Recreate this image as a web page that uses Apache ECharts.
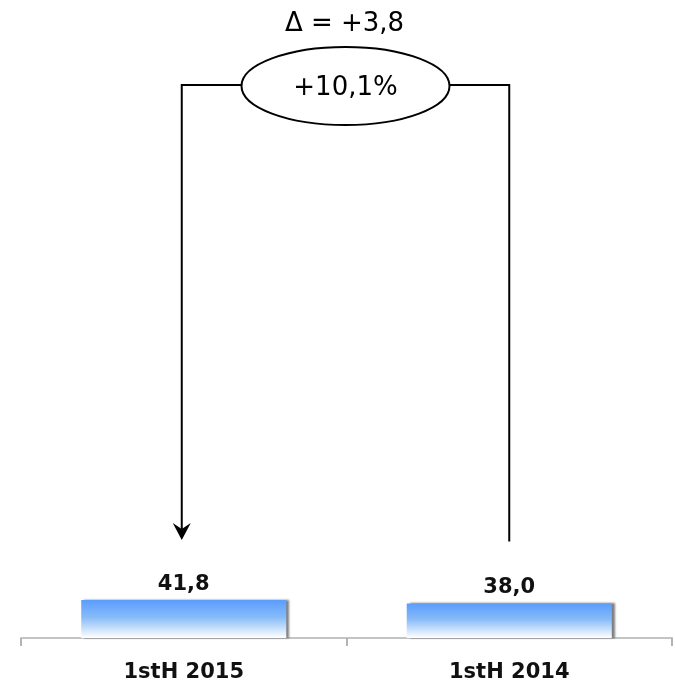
<!DOCTYPE html>
<html>
<head>
<meta charset="utf-8">
<script src="https://cdn.jsdelivr.net/npm/echarts@6/dist/echarts.min.js"></script>
<style>
  html, body { margin: 0; padding: 0; background: #fff; }
  #chart { width: 675px; height: 692px; }
</style>
</head>
<body>
<div id="chart"></div>
<script>
// Half-year comparison
const categories = ['1stH 2015', '1stH 2014'];
const values = [41.8, 38.0];
const deltaLabel = '\u0394 = +3,8';
const changeLabel = '+10,1%';

const FONT = '"DejaVu Sans", Verdana, sans-serif';
const fmt = v => v.toFixed(1).replace('.', ',');

const chart = echarts.init(document.getElementById('chart'));

chart.setOption({
  animation: false,
  grid: { left: 21, right: 3, top: 38, bottom: 54 },
  xAxis: {
    type: 'category',
    data: categories,
    axisLine: { show: true, lineStyle: { color: '#c4c4c4', width: 2 } },
    axisTick: { show: true, length: 8, lineStyle: { color: '#b4b4b4', width: 2 } },
    axisLabel: {
      margin: 24,
      color: '#111',
      fontFamily: FONT,
      fontWeight: 'bold',
      fontSize: 21
    }
  },
  yAxis: {
    type: 'value',
    min: 0,
    max: 660,
    show: false,
    splitLine: { show: false }
  },
  series: [{
    type: 'bar',
    data: values,
    barWidth: '63%',
    itemStyle: {
      color: new echarts.graphic.LinearGradient(0, 0, 0, 1, [
        { offset: 0, color: '#5b9dff' },
        { offset: 0.45, color: '#86bbf7' },
        { offset: 1, color: '#ffffff' }
      ]),
      shadowColor: 'rgba(0,0,0,0.5)',
      shadowOffsetX: 3,
      shadowOffsetY: 0,
      shadowBlur: 2
    },
    label: {
      show: true,
      position: 'top',
      distance: 5,
      formatter: p => fmt(p.value),
      color: '#111',
      fontFamily: FONT,
      fontWeight: 'bold',
      fontSize: 21
    }
  }]
});

// Connector lines and the change bubble above the bars
function drawConnector() {
  const xL = chart.convertToPixel({ xAxisIndex: 0 }, categories[0]) - 2;
  const xR = chart.convertToPixel({ xAxisIndex: 0 }, categories[1]);
  const topL = chart.convertToPixel({ yAxisIndex: 0 }, values[0]);
  const topR = chart.convertToPixel({ yAxisIndex: 0 }, values[1]);
  const cx = (xL + xR) / 2;
  const cy = 86, rx = 104, ry = 39;
  const lineY = 85;
  const endL = topL - 60;
  const endR = topR - 62;
  const stroke = { stroke: '#000', lineWidth: 2, fill: null };

  chart.setOption({
    graphic: [
      {
        type: 'polyline',
        shape: { points: [[cx - rx, lineY], [xL, lineY], [xL, endL - 10]] },
        style: stroke
      },
      {
        type: 'polygon',
        shape: { points: [[xL - 9, endL - 17], [xL, endL - 11], [xL + 9, endL - 17], [xL, endL]] },
        style: { fill: '#000' }
      },
      {
        type: 'polyline',
        shape: { points: [[cx + rx, lineY], [xR, lineY], [xR, endR]] },
        style: stroke
      },
      {
        type: 'ellipse',
        shape: { cx: cx, cy: cy, rx: rx, ry: ry },
        style: { stroke: '#000', lineWidth: 2, fill: '#fff' }
      },
      {
        type: 'text',
        x: cx, y: cy + 2,
        style: {
          text: changeLabel,
          fill: '#000',
          font: '26px ' + FONT,
          align: 'center',
          verticalAlign: 'middle'
        }
      },
      {
        type: 'text',
        x: cx - 1, y: 24,
        style: {
          text: deltaLabel,
          fill: '#000',
          font: '26px ' + FONT,
          align: 'center',
          verticalAlign: 'middle'
        }
      }
    ]
  });
}
drawConnector();
</script>
</body>
</html>
